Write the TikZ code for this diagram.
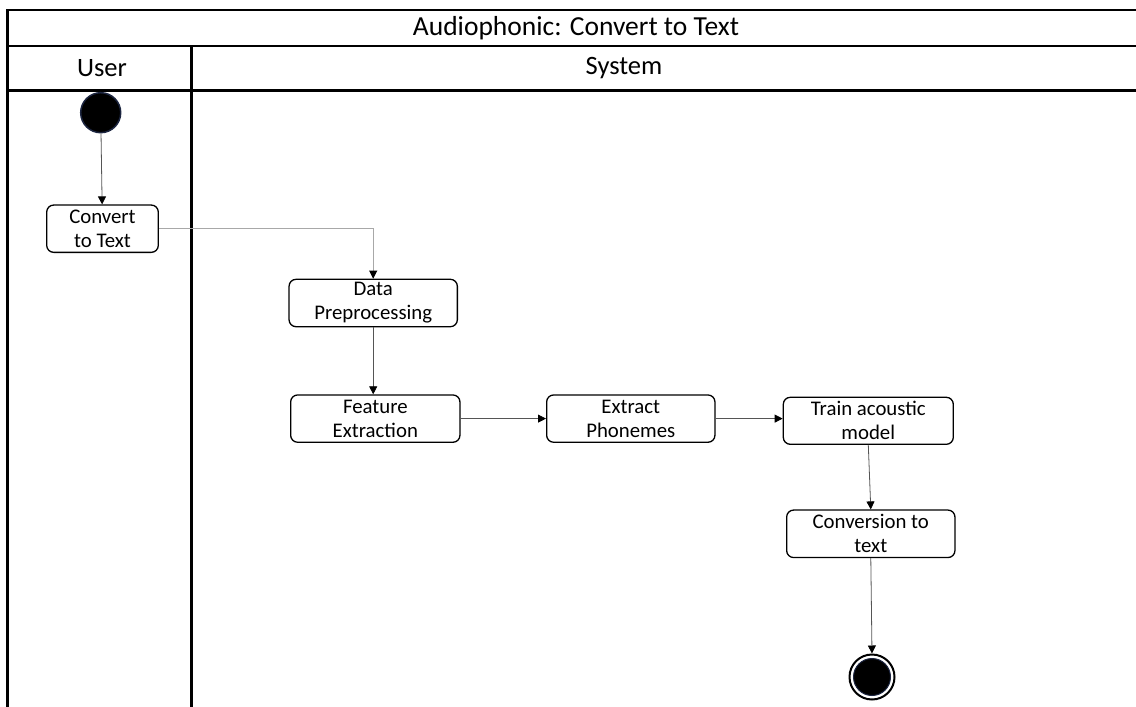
\documentclass[tikz,border=0pt]{standalone}
\usepackage{fontspec}
\setmainfont{Carlito}
\usetikzlibrary{arrows.meta}
\definecolor{navyedge}{HTML}{1C2540}
\definecolor{flowline}{HTML}{555555}
\definecolor{paleline}{HTML}{A8A8A8}
\tikzset{
  frame/.style={line width=2.8pt, black},
  lanetitle/.style={font=\fontsize{26.5}{30}\selectfont, inner sep=0pt},
  action/.style={draw=black, line width=1.3pt, rounded corners=7pt, fill=white,
    align=center, inner sep=0pt, font=\fontsize{20.8}{24}\selectfont},
  flow/.style={draw=flowline, line width=0.8pt,
    -{Triangle[width=8pt,length=8pt,fill=black,color=black]}},
  startdot/.style={circle, fill=black, draw=navyedge, line width=1.5pt,
    minimum size=40pt, inner sep=0pt},
  endring/.style={circle, draw=black, line width=2pt, fill=white,
    minimum size=45pt, inner sep=0pt},
}
\begin{document}
\begin{tikzpicture}[x=1pt, y=-1pt]
  \useasboundingbox (0,0) rectangle (1136,707);
  % swimlane frame
  \draw[frame] (1136,10) -- (7.5,10) -- (7.5,707);
  \draw[frame] (7.5,46) -- (1136,46);
  \draw[frame] (7.5,90.5) -- (1136,90.5);
  \draw[frame] (191.5,46) -- (191.5,707);
  % headings
  \node[lanetitle, font=\fontsize{27.5}{30}\selectfont] (title) at (576,28) {Audiophonic: Convert to Text};
  \node[lanetitle] (user) at (102,68) {User};
  \node[lanetitle] (system) at (624,68) {System};
  % activities
  \node[startdot] (start) at (100.7,112.7) {};
  \node[action, minimum width=111.6pt, minimum height=47.3pt] (convert) at (102.5,228.7) {Convert\\to Text};
  \node[action, minimum width=168.3pt, minimum height=47.4pt] (prep) at (373.2,303) {Data\\Preprocessing};
  \node[action, minimum width=169.3pt, minimum height=47.3pt] (feat) at (375.3,418.6) {Feature\\Extraction};
  \node[action, minimum width=168.3pt, minimum height=47.3pt] (phon) at (630.8,418.6) {Extract\\Phonemes};
  \node[action, minimum width=170pt, minimum height=47pt] (train) at (868.3,420.8) {Train acoustic\\model};
  \node[action, minimum width=168.3pt, minimum height=47.5pt] (conv) at (870.8,533.8) {Conversion to\\text};
  \node[endring] (end) at (872,677) {};
  \fill[black, draw=navyedge, line width=1pt] (end.center) circle (18.5pt);
  % control flow
  \coordinate (bend) at (prep.north |- convert.east);
  \draw[flow] (start) -- (convert);
  \draw[flow, draw=paleline] (convert.east) -- (bend) -- (prep.north);
  \draw[flow] (prep.south) -- (feat.north -| prep.south);
  \draw[flow] (feat.east) -- (phon.west);
  \draw[flow] (phon.east) -- (train.west |- phon.east);
  \draw[flow] (train.south) -- (conv.north);
  \draw[flow] (conv.south) -- (end.north);
\end{tikzpicture}
\end{document}
